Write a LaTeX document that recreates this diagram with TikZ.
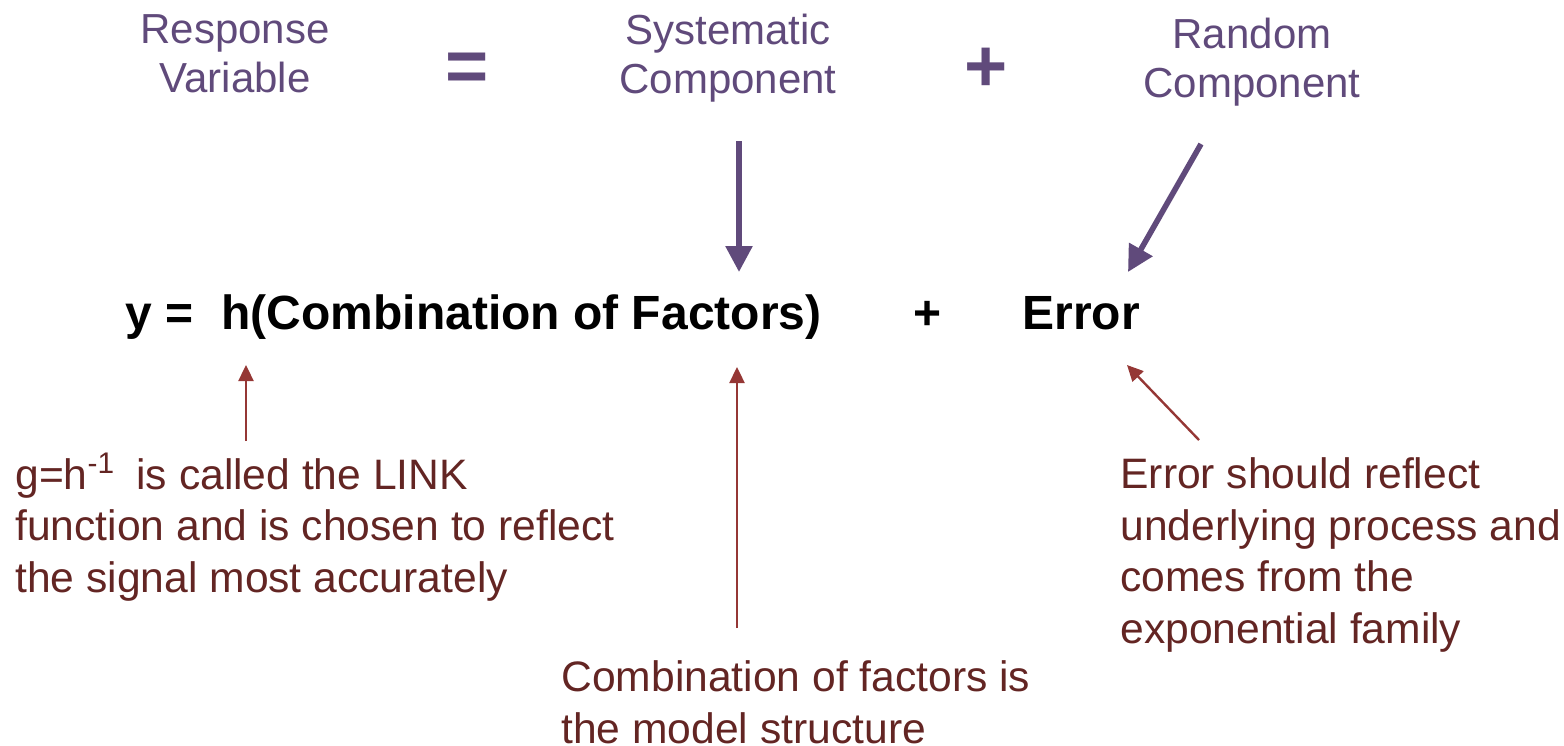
\documentclass[tikz,border=0pt]{standalone}
\usepackage{fontspec}
\setmainfont{Liberation Sans}
\usetikzlibrary{arrows.meta}
\definecolor{plum}{HTML}{604A7B}
\definecolor{notered}{HTML}{632523}
\definecolor{arrowred}{HTML}{953735}

\begin{document}
\begin{tikzpicture}[x=0.5pt,y=-0.5pt,
  heading/.style={text=plum, font=\fontsize{21}{24.5}\selectfont, align=center, inner sep=0, anchor=base},
  opsym/.style={text=plum, font=\fontsize{37}{37}\selectfont\bfseries, inner sep=0},
  eqn/.style={font=\fontsize{24}{28}\selectfont\bfseries, inner sep=0, anchor=base west},
  note/.style={text=notered, font=\fontsize{21.3}{25.75}\selectfont, align=left, inner sep=0, anchor=base west},
  bigarrow/.style={draw=plum, line width=2.8pt, -{Triangle[length=13pt,width=13pt]}},
  thinarrow/.style={draw=arrowred, line width=1.2pt, -{Triangle[length=8pt,width=7.5pt]}}]

% page frame
\useasboundingbox (0,0) rectangle (1564,745);

% headings of the model decomposition (placed by the baseline of their last line)
\node[heading] (resp) at (235,92) {Response\\Variable};
\node[opsym] (eqsign) at (467,72) {=};
\node[heading] (sys) at (728,93) {Systematic\\Component};
\node[opsym] (plussign) at (986,70) {+};
\node[heading] (rand) at (1252,97) {Random\\Component};

% the model equation
\node[eqn] (ylhs) at (125,329) {y =};
\node[eqn] (hcomb) at (221,329) {h(Combination of Factors)};
\node[eqn, anchor=base] (plus) at (928,329) {+};
\node[eqn] (err) at (1022,329) {Error};

% explanatory notes (placed by the baseline of their last line)
\node[note] (linknote) at (15,592) {g=h\textsuperscript{-1}\enspace is called the LINK\\function and is chosen to reflect\\the signal most accurately};
\node[note] (combnote) at (561,743) {Combination of factors is\\the model structure};
\node[note] (errnote) at (1120,643) {Error should reflect\\underlying process and\\comes from the\\exponential family};

% arrow end points
\coordinate (sysfrom) at (739,141);
\coordinate (systo) at (739,272);
\coordinate (randfrom) at (1201,144);
\coordinate (randto) at (1128,272);
\coordinate (linkfrom) at (246,441);
\coordinate (linkto) at (246,365);
\coordinate (combfrom) at (737,628);
\coordinate (combto) at (737,367);
\coordinate (errfrom) at (1199,440);
\coordinate (errto) at (1127,365);

% connectors
\draw[bigarrow] (sysfrom) -- (systo);
\draw[bigarrow] (randfrom) -- (randto);
\draw[thinarrow] (linkfrom) -- (linkto);
\draw[thinarrow] (combfrom) -- (combto);
\draw[thinarrow] (errfrom) -- (errto);
\end{tikzpicture}
\end{document}
